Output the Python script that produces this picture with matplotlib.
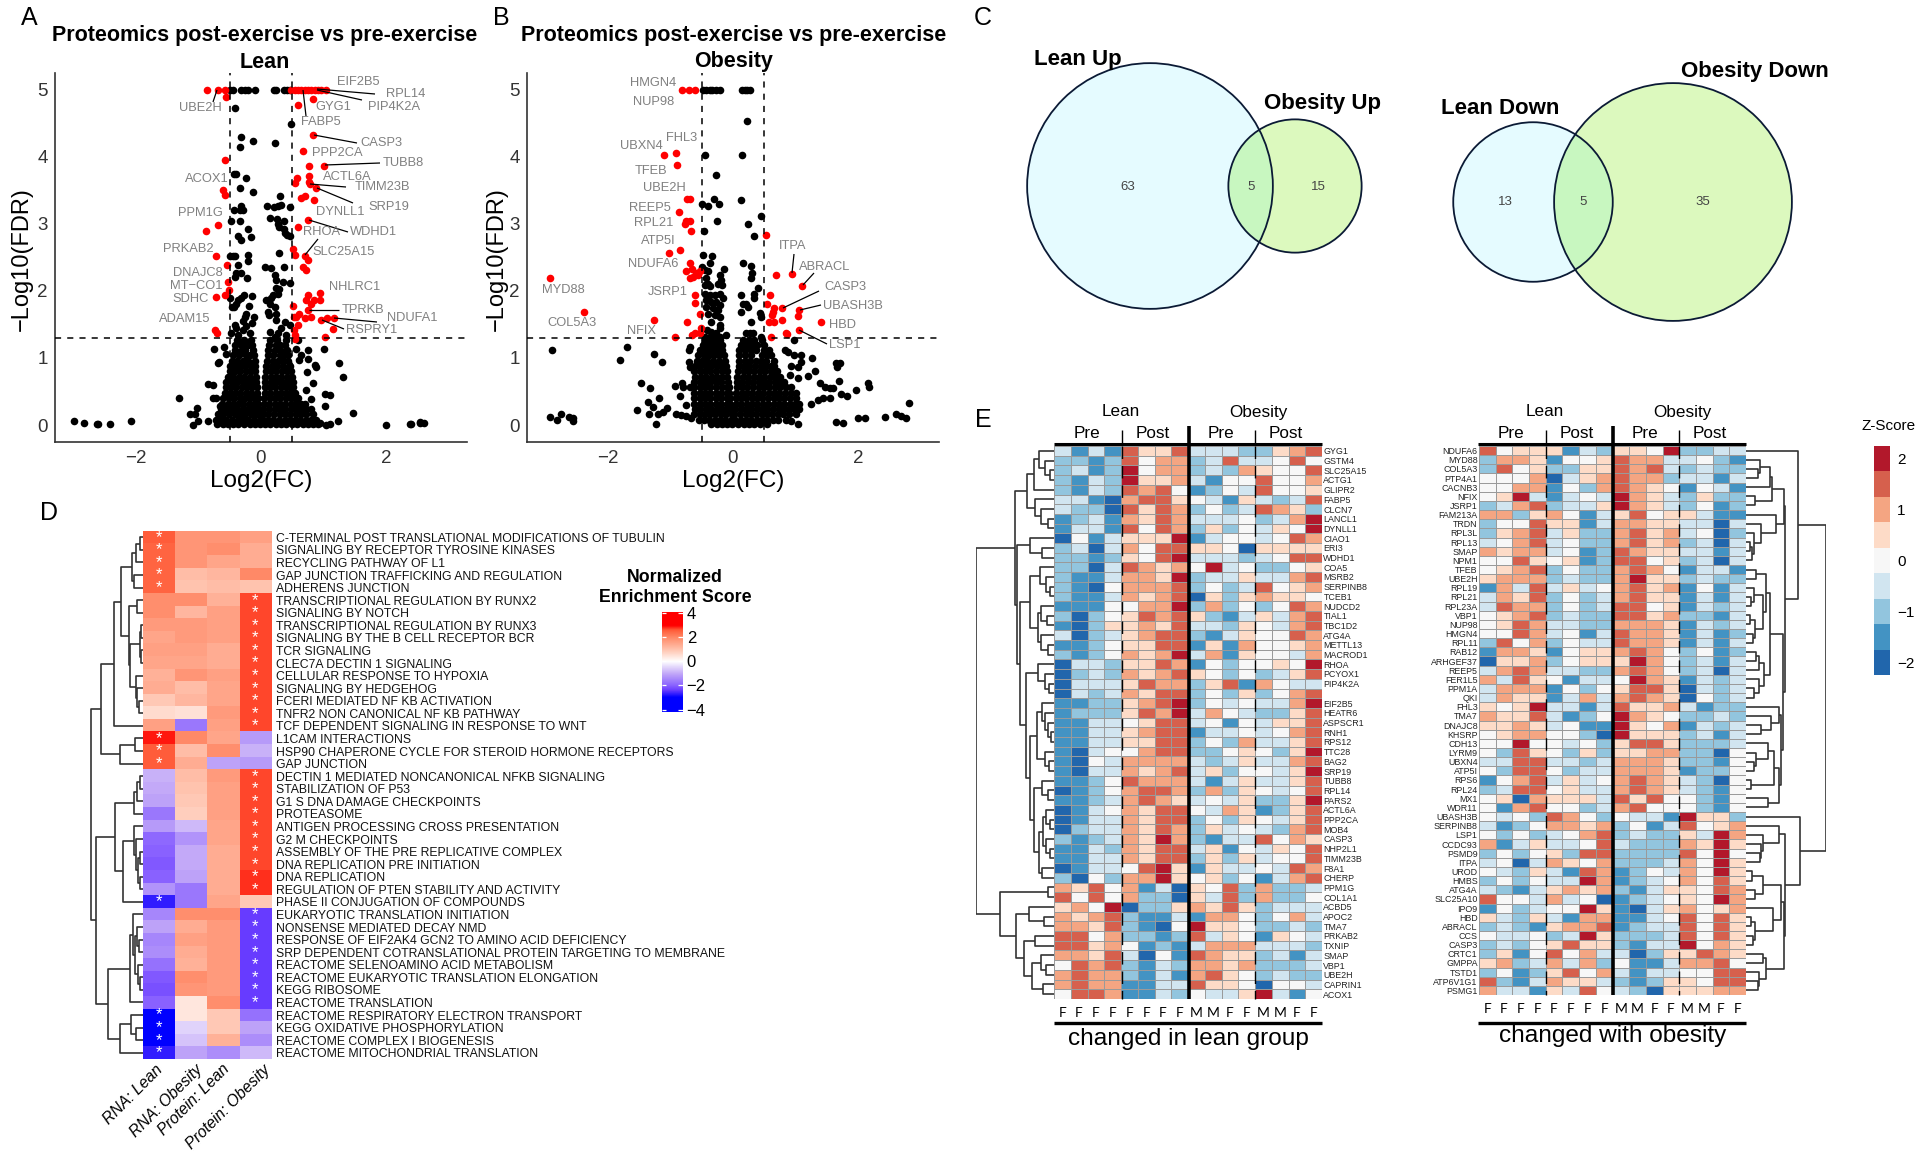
"""Exercise proteomics figure: volcano plots, Venn diagrams, enrichment and Z-score heatmaps."""

import matplotlib

matplotlib.use("Agg")

import matplotlib.pyplot as plt
import numpy as np
from matplotlib.collections import LineCollection
from matplotlib.colors import LinearSegmentedColormap, ListedColormap
from matplotlib.patches import Circle

plt.rcParams["font.family"] = ["Liberation Sans", "DejaVu Sans"]

WIDTH, HEIGHT = 1920, 1162

# ---- panel A, volcano (log2FC, -log10FDR) ----
A_RED = [
    (-.86, 5), (-.68, 5), (-.565, 5), (-.56, 4.89), (-.565, 3.96), (-.61, 3.5), (-.575, 3.43), (-.68, 2.99),
    (-.88, 2.89), (-.71, 2.52), (-.54, 2.39), (-.52, 2.13), (-.51, 2.02), (-.565, 1.94), (-.71, 1.91),
    (-.725, 1.42), (-.7, 1.38), (.49, 5), (.54, 5), (.6, 5), (.65, 5), (.7, 5), (.76, 5), (.81, 5), (.86, 5),
    (.92, 5), (.97, 5), (1.04, 5), (.83, 4.86), (.6, 4.78), (.84, 4.32), (.67, 4.09), (.77, 3.87), (1.01, 3.87),
    (.58, 3.69), (.54, 3.61), (.77, 3.72), (.77, 3.62), (.78, 3.59), (.88, 3.54), (.7, 3.42), (.65, 3.39),
    (.85, 3.35), (.76, 3.06), (.6, 2.96), (.52, 2.63), (.55, 2.53), (.7, 2.52), (.75, 2.46), (.68, 2.36),
    (.73, 2.31), (.76, 1.94), (.95, 1.97), (.73, 1.86), (.85, 1.87), (.95, 1.86), (.81, 1.8), (.52, 1.77),
    (.76, 1.71), (.53, 1.61), (.61, 1.65), (.57, 1.61), (.7, 1.59), (.81, 1.61), (.96, 1.56), (1.06, 1.59),
    (1.17, 1.59), (.59, 1.49), (1.15, 1.43), (.53, 1.42), (.54, 1.34), (1.02, 1.32), (.54, 1.29),
]
A_BLACK = [
    (-.5, 5), (-.44, 5), (-.31, 5), (-.26, 5), (-.2, 5), (-.1, 5), (.21, 5), (.25, 5), (.37, 5), (.42, 5), (.46, 5),
    (-.41, 4.73), (.48, 4.49), (-.31, 4.29), (-.13, 4.24), (-.34, 4.15), (.22, 4.2), (-.43, 3.74), (-.4, 3.74),
    (-.23, 3.68), (-.33, 3.54), (-.12, 3.47), (.3, 3.41), (.1, 3.26), (.21, 3.25), (.27, 3.27), (.33, 3.28),
    (.46, 3.25), (-.31, 3.26), (-.33, 3.21), (-.43, 3.2), (-.29, 3.2), (-.47, 3.05), (-.33, 3.05), (.14, 3.09),
    (.26, 3.07), (.37, 3.05), (.28, 3.0), (.29, 2.96), (.37, 2.93), (.38, 2.87), (.42, 2.83), (.46, 2.82),
    (-.21, 2.92), (-.36, 2.82), (-.31, 2.76), (-.15, 2.81), (-.5, 2.52), (-.44, 2.52), (-.41, 2.52), (-.2, 2.53),
    (-.2, 2.44), (-.36, 2.39), (.29, 2.56), (.07, 2.36), (.17, 2.34), (.37, 2.35), (.22, 2.24), (-.39, 2.26),
    (-.31, 2.26), (-.42, 2.21), (-.22, 2.19), (.24, 2.16), (.35, 2.13), (.46, 2.12), (.25, 2.05), (.29, 2.03),
    (-.49, 1.89), (-.27, 1.94), (-.14, 1.93), (-.31, 1.89), (-.36, 1.86), (-.39, 1.81), (-.19, 1.78), (.2, 1.94),
    (.28, 1.96), (.17, 1.89), (.08, 1.86), (.14, 1.81), (.22, 1.76), (.12, 1.69), (.25, 1.66), (.13, 1.64),
    (-.46, 1.76), (-.43, 1.76), (-.23, 1.66), (-.11, 1.61), (-.26, 1.61), (-.28, 1.55), (-.14, 1.52), (-.23, 1.47),
    (-.42, 1.49), (-.39, 1.44), (-.28, 1.42), (-.48, 1.37), (-.36, 1.34), (-.18, 1.37), (.25, 1.56), (.38, 1.54),
    (.46, 1.49), (.33, 1.44), (.14, 1.39), (.28, 1.37), (.41, 1.34), (.22, 1.32),
    (-2.99, .06), (-2.83, .03), (-2.62, .02), (-2.6, .01), (-2.42, .01), (-2.07, .06), (-1.31, .41), (-1.02, .25),
    (-1.13, .17), (-1.06, .17), (-1.08, 0), (-1.01, .06), (-.84, .61), (-.76, .59), (-.84, .06), (-.76, .41),
    (-.71, .4), (-.65, .28), (-.69, .92), (-.67, .94), (-.75, 1.14), (-.59, 1.17), (-.55, 1.06), (2.01, 0),
    (2.38, .01), (2.4, .02), (2.54, .03), (2.61, .03), (2.55, .04), (1.48, .18), (1.24, .06), (1.1, .02), (1.05, 0),
    (.94, .03), (1.11, .45), (1.03, .46), (1.03, .29), (1.32, .71), (1.25, .92), (1.01, 1.14), (.76, 1.12),
    (.76, .99), (.6, 1.27), (.57, 1.14), (.89, .87), (.86, .89), (.74, .79), (.84, .62), (.73, .52), (.8, .39),
    (.61, .97), (.65, 1.04),
]
BULK_Y = [.01, .08, .16, .24, .32, .40, .48, .56, .64, .72, .80, .88, .96, 1.04, 1.12, 1.20, 1.27]
A_BULK_X = [
    [-.70, -.61, -.53, -.44, -.36, -.27, -.18, -.10, -.02, .07, .15, .24, .33, .41, .50, .58, .67, .75, .84, .92],
    [-.72, -.63, -.55, -.46, -.37, -.29, -.20, -.11, -.02, .03, .12, .20, .29, .38, .46, .55, .63, .72, .80, .88],
    [-.68, -.60, -.51, -.42, -.33, -.25, -.16, -.08, -.03, .03, .12, .21, .30, .38, .47, .56, .65, .73, .84],
    [-.64, -.55, -.47, -.38, -.29, -.21, -.12, -.04, .04, .13, .22, .30, .39, .48, .56, .65, .72, .80],
    [-.62, -.53, -.45, -.36, -.28, -.19, -.11, -.05, .05, .13, .22, .31, .39, .48, .57, .64, .70],
    [-.60, -.51, -.43, -.34, -.26, -.17, -.10, -.05, .05, .14, .23, .31, .40, .48, .55, .60],
    [-.58, -.50, -.41, -.33, -.24, -.15, -.06, .06, .15, .24, .32, .41, .49, .55],
    [-.56, -.47, -.39, -.30, -.22, -.14, -.06, .06, .15, .23, .32, .40, .47, .52],
    [-.55, -.46, -.38, -.29, -.21, -.13, -.07, .07, .16, .24, .33, .41, .47, .52],
    [-.52, -.44, -.35, -.27, -.18, -.08, .07, .16, .25, .33, .42, .50],
    [-.50, -.41, -.33, -.24, -.16, -.09, .08, .17, .25, .34, .42, .48],
    [-.50, -.42, -.33, -.25, -.16, -.09, .09, .18, .26, .35, .46],
    [-.46, -.38, -.29, -.20, -.10, .10, .19, .27, .36, .44],
    [-.44, -.35, -.24, -.18, -.11, .11, .20, .30, .37, .44],
    [-.42, -.30, -.25, -.12, .12, .22, .30, .42],
    [-.42, -.31, -.21, -.14, .13, .24, .31, .38],
    [-.38, -.27, -.16, .14, .26, .40],
]
A_LABELS = [
    ("EIF2B5", 358, 82), ("RPL14", 406, 94), ("PIP4K2A", 394, 107), ("GYG1", 333, 107), ("UBE2H", 200, 108),
    ("FABP5", 321, 122), ("CASP3", 381, 143), ("PPP2CA", 337, 153), ("TUBB8", 403, 163), ("ACTL6A", 347, 177),
    ("ACOX1", 207, 179), ("TIMM23B", 382, 187), ("SRP19", 389, 207), ("DYNLL1", 340, 212), ("PPM1G", 200, 213),
    ("RHOA", 322, 232), ("WDHD1", 374, 232), ("PRKAB2", 188, 249), ("SLC25A15", 344, 252), ("DNAJC8", 198, 273),
    ("NHLRC1", 355, 287), ("MT\u2212CO1", 196, 286), ("SDHC", 191, 299), ("TPRKB", 363, 310), ("NDUFA1", 412, 318),
    ("ADAM15", 185, 319), ("RSPRY1", 372, 330),
]
A_SEGMENTS = [
    [(217, 90), (213, 102)], [(317, 89), (375, 94)], [(317, 90), (362, 100)], [(303, 90), (306, 116)],
    [(314, 135), (357, 143)], [(325, 165), (380, 163)], [(310, 184), (346, 187)], [(317, 188), (353, 203)],
    [(309, 220), (348, 232)], [(305, 255), (318, 239)], [(309, 310), (339, 310)], [(334, 318), (377, 322)],
    [(322, 320), (344, 329)],
]

# ---- panel B, volcano ----
B_RED = [
    (-.81, 5), (-.71, 5), (-.6, 5), (-1.1, 4.03), (-.91, 4.05), (-.89, 3.88), (-.73, 3.37), (-.68, 3.37),
    (-.87, 3.18), (-.77, 3.0), (-.75, 3.05), (-.69, 3.05), (-.67, 2.9), (.52, 2.84), (-.85, 2.61), (-1.03, 2.57),
    (-.69, 2.41), (-.75, 2.3), (-.65, 2.32), (-.59, 2.26), (-.52, 2.3), (-.69, 2.2), (-.64, 2.21), (-.56, 2.24),
    (-2.93, 2.19), (-2.38, 1.68), (-1.27, 1.57), (-.6, 1.94), (-.61, 1.82), (-.53, 1.66), (-.74, 1.53), (-.51, 1.44),
    (-.66, 1.35), (-.6, 1.38), (-.53, 1.37), (-.92, 1.32), (.69, 2.24), (.94, 2.25), (1.11, 2.08), (.59, 1.94),
    (.54, 1.8), (.65, 1.75), (.79, 1.74), (.64, 1.69), (1.06, 1.71), (1.04, 1.62), (.63, 1.64), (.57, 1.53),
    (.65, 1.53), (.78, 1.56), (1.41, 1.53), (.84, 1.37), (.86, 1.36), (1.05, 1.42), (.6, 1.32),
]
B_BLACK = [
    (-.48, 5), (-.43, 5), (-.37, 5), (-.33, 5), (-.27, 5), (-.21, 5), (.14, 5), (.19, 5), (.22, 5), (.27, 5),
    (.23, 4.53), (-.45, 4.03), (.15, 4.03), (-.27, 3.73), (.12, 3.36), (-.5, 3.3), (-.4, 3.26), (-.31, 3.37),
    (-.22, 3.3), (-.26, 3.05), (.45, 3.12), (.24, 3.0), (-.46, 2.9), (.33, 2.82), (-.48, 2.53), (-.34, 2.52),
    (-.36, 2.41), (-.5, 2.36), (-.45, 2.31), (-.4, 2.29), (-.14, 2.32), (-.21, 2.24), (.16, 2.41), (.28, 2.37),
    (.3, 2.26), (.29, 2.19), (.4, 2.05), (-.43, 2.19), (-.4, 2.11), (-.44, 2.09), (-.19, 2.17), (-.24, 2.11),
    (-.18, 2.09), (-.37, 2.07), (-.45, 1.96), (-.37, 1.94), (-.29, 1.94), (-.21, 1.96), (-.16, 1.9), (-.43, 1.86),
    (-.35, 1.84), (-.27, 1.84), (-.21, 1.79), (-.43, 1.76), (-.32, 1.74), (-.24, 1.71), (-.4, 1.66), (-.29, 1.64),
    (-.21, 1.61), (-.35, 1.54), (-.2, 1.49), (-.2, 1.44), (.13, 1.94), (.33, 1.95), (.33, 1.89), (.16, 1.81),
    (.21, 1.8), (.24, 1.76), (.13, 1.69), (.43, 1.67), (.45, 1.61), (.28, 1.53), (.21, 1.38), (.27, 1.38),
    (.32, 1.37), (.45, 1.32), (-.42, 1.42), (-.35, 1.39), (-.27, 1.37), (-.11, 1.34), (-.45, 1.32), (-.37, 1.32),
    (-.29, 1.32), (-.21, 1.31),
    (-2.89, 1.12), (-1.7, 1.17), (-1.8, .97), (-1.27, 1.06), (-1.13, .94), (-1.47, .63), (-1.32, .55), (-1.54, .22),
    (-1.36, .35), (-1.18, .41), (-1.35, .17), (-1.28, .27), (-1.2, .17), (-1.12, .2), (-1.05, .26), (-1.23, .02),
    (-2.92, .12), (-2.81, .07), (-2.75, .16), (-2.63, .12), (-2.56, .1), (-2.56, .06), (-.92, .58), (-.81, .63),
    (-.85, .44), (-.75, .3), (-.91, .16), (-.83, .15), (-.75, .13), (-.67, .11), (-.8, .57), (-.69, .57),
    (-.69, 1.17), (-.7, 1.12), (-.71, .94), (-.69, .87), (2.81, .33), (2.6, .16), (2.68, .13), (2.77, .11),
    (2.43, .12), (2.0, .1), (2.11, .1), (1.64, .05), (1.76, .03), (1.04, .02), (.93, .06), (2.16, .63), (2.17, .57),
    (1.97, .52), (1.82, .44), (1.72, .46), (1.7, .65), (1.71, .93), (1.66, .87), (1.65, .92), (1.6, .55), (1.55, .55),
    (1.47, .57), (1.39, .62), (1.55, .4), (1.44, .4), (1.36, .37), (1.25, .32), (1.27, 1.0), (1.31, .81), (1.2, .73),
    (1.09, 1.04), (1.09, .94), (.97, 1.04), (1.04, .87), (.93, .88), (.83, 1.12), (.88, 1.09), (.97, 1.27), (1.04, .7),
    (.91, .75), (.64, .87), (.69, .77), (.75, .62),
]
B_BULK_X = [
    [-.35, -.26, -.18, -.09, -.01, .08, .17, .25, .34, .43, .55],
    [-.55, -.46, -.38, -.29, -.21, -.12, -.03, .03, .12, .21, .29, .38, .47, .55, .64, .72, .85],
    [-.62, -.53, -.45, -.36, -.28, -.19, -.11, -.02, .02, .11, .20, .28, .37, .46, .54, .63, .72, .80, .89, 1.0],
    [-.60, -.52, -.43, -.35, -.26, -.18, -.09, -.03, .03, .12, .21, .29, .38, .47, .55, .64, .73, .81, .90, .98, 1.05],
    [-.62, -.53, -.45, -.36, -.27, -.19, -.10, -.04, .04, .13, .22, .30, .39, .48, .56, .65, .74, .82, .91, .99, 1.05],
    [-.62, -.53, -.44, -.36, -.27, -.19, -.10, -.05, .04, .13, .21, .30, .39, .47, .56, .65, .73, .82, .91, 1.0],
    [-.62, -.53, -.45, -.36, -.27, -.19, -.10, -.06, .05, .14, .22, .31, .40, .48, .57, .66, .74, .83, .92, 1.0],
    [-.62, -.53, -.44, -.36, -.27, -.18, -.10, -.07, .06, .15, .23, .32, .41, .49, .58, .67, .75, .84, .92],
    [-.62, -.53, -.45, -.36, -.27, -.19, -.08, .06, .15, .24, .32, .41, .49, .58, .67, .74, .82],
    [-.60, -.51, -.43, -.34, -.26, -.17, -.09, .07, .16, .24, .33, .42, .50, .59, .67, .75],
    [-.62, -.53, -.44, -.36, -.27, -.18, -.10, .08, .17, .25, .34, .43, .51, .60, .70],
    [-.60, -.52, -.43, -.35, -.26, -.18, -.11, .09, .18, .26, .35, .44, .52, .60, .66],
    [-.58, -.49, -.41, -.32, -.23, -.13, .10, .19, .27, .36, .45, .53, .65],
    [-.56, -.47, -.39, -.30, -.22, -.15, .10, .19, .28, .47, .54, .60],
    [-.52, -.44, -.35, -.27, -.17, .10, .19, .28, .37, .49, .58],
    [-.48, -.39, -.31, -.23, -.18, .13, .22, .31, .39, .50],
    [-.45, -.37, -.28, -.20, .16, .25, .34, .46],
]
B_LABELS = [
    ("HMGN4", 653, 83), ("NUP98", 654, 102), ("FHL3", 682, 138), ("UBXN4", 641, 146), ("TFEB", 651, 171),
    ("UBE2H", 664, 188), ("REEP5", 650, 208), ("RPL21", 654, 223), ("ATP5I", 658, 241), ("ITPA", 793, 246),
    ("NDUFA6", 653, 264), ("ABRACL", 825, 267), ("MYD88", 563, 290), ("JSRP1", 668, 292), ("CASP3", 845, 287),
    ("UBASH3B", 853, 306), ("COL5A3", 572, 323), ("HBD", 842, 325), ("NFIX", 641, 331), ("LSP1", 845, 345),
]
B_SEGMENTS = [
    [(794, 254), (792, 273)], [(814, 273), (803, 285)], [(819, 291), (783, 308)], [(821, 305), (800, 310)],
    [(827, 344), (799, 330)],
]

# ---- panel C, Venn counts (only left, shared, only right) ----
VENN_UP = [63, 5, 15]
VENN_DOWN = [13, 5, 35]

# ---- panel D, normalized enrichment scores ----
D_PATHWAYS = [
    "C-TERMINAL POST TRANSLATIONAL MODIFICATIONS OF TUBULIN", "SIGNALING BY RECEPTOR TYROSINE KINASES",
    "RECYCLING PATHWAY OF L1", "GAP JUNCTION TRAFFICKING AND REGULATION", "ADHERENS JUNCTION",
    "TRANSCRIPTIONAL REGULATION BY RUNX2", "SIGNALING BY NOTCH", "TRANSCRIPTIONAL REGULATION BY RUNX3",
    "SIGNALING BY THE B CELL RECEPTOR BCR", "TCR SIGNALING", "CLEC7A DECTIN 1 SIGNALING",
    "CELLULAR RESPONSE TO HYPOXIA", "SIGNALING BY HEDGEHOG", "FCERI MEDIATED NF KB ACTIVATION",
    "TNFR2 NON CANONICAL NF KB PATHWAY", "TCF DEPENDENT SIGNALING IN RESPONSE TO WNT", "L1CAM INTERACTIONS",
    "HSP90 CHAPERONE CYCLE FOR STEROID HORMONE RECEPTORS", "GAP JUNCTION",
    "DECTIN 1 MEDIATED NONCANONICAL NFKB SIGNALING", "STABILIZATION OF P53", "G1 S DNA DAMAGE CHECKPOINTS",
    "PROTEASOME", "ANTIGEN PROCESSING CROSS PRESENTATION", "G2 M CHECKPOINTS",
    "ASSEMBLY OF THE PRE REPLICATIVE COMPLEX", "DNA REPLICATION PRE INITIATION", "DNA REPLICATION",
    "REGULATION OF PTEN STABILITY AND ACTIVITY", "PHASE II CONJUGATION OF COMPOUNDS",
    "EUKARYOTIC TRANSLATION INITIATION", "NONSENSE MEDIATED DECAY NMD",
    "RESPONSE OF EIF2AK4 GCN2 TO AMINO ACID DEFICIENCY", "SRP DEPENDENT COTRANSLATIONAL PROTEIN TARGETING TO MEMBRANE",
    "REACTOME SELENOAMINO ACID METABOLISM", "REACTOME EUKARYOTIC TRANSLATION ELONGATION", "KEGG RIBOSOME",
    "REACTOME TRANSLATION", "REACTOME RESPIRATORY ELECTRON TRANSPORT", "KEGG OXIDATIVE PHOSPHORYLATION",
    "REACTOME COMPLEX I BIOGENESIS", "REACTOME MITOCHONDRIAL TRANSLATION",
]
D_COLUMNS = ["RNA: Lean", "RNA: Obesity", "Protein: Lean", "Protein: Obesity"]
D_RNA_LEAN = [2.6, 2.5, 2.5, 2.5, 2.5, 1.9, 1.9, 1.7, 1.5, 1.6, 1.5, 1.3, 1.4, .9, .6, 1.6, 2.9, 2.6, 2.6, -.9, -1.0,
              -1.1, -1.7, -1.2, -1.9, -2.0, -2.1, -2.0, -1.3, -2.7, -1.5, -1.1, -1.5, -1.4, -1.8, -2.1, -2.2, -2.0,
              -3.2, -3.2, -3.2, -2.7]
D_RNA_OBESITY = [1.8, 1.8, 1.8, 1.1, 1.0, 1.9, 1.2, 1.7, 1.7, 1.6, 1.5, 1.8, 1.1, 1.2, .5, -1.7, 2.0, 1.1, 1.4, 1.1,
                 1.0, .9, .8, -.8, -1.3, -1.0, -1.0, -1.1, -1.7, -1.7, 1.9, 1.4, 1.6, 1.4, 1.3, 1.9, 1.8, .4, .4, -.5,
                 -.7, -1.1]
D_PROTEIN_LEAN = [1.8, 1.9, 1.5, 1.2, 1.1, 1.3, 1.6, 1.6, 1.6, 1.4, 1.4, 1.6, 1.5, 1.5, 1.7, 1.6, 1.5, 1.9, -1.1, 1.7,
                  1.6, 1.6, 1.6, 1.5, 1.5, 1.4, 1.4, 1.4, 1.4, 1.5, 1.9, 1.7, 1.7, 1.7, 1.7, 1.7, 1.7, 1.9, .9, .9, 1.3,
                  -1.4]
D_PROTEIN_OBESITY = [1.6, 1.4, 1.4, 2.0, 1.0, 2.7, 2.7, 2.7, 2.7, 2.7, 2.7, 2.7, 2.7, 2.7, 2.7, 2.7, -1.2, -.9, -1.2,
                     2.7, 2.7, 2.7, 2.7, 2.7, 2.7, 2.7, 2.7, 2.8, 2.8, .9, -2.4, -2.4, -2.4, -2.4, -2.4, -2.4, -2.4,
                     -2.4, -1.8, -1.1, -1.4, -.8]
D_STARS_RNA_LEAN = [0, 1, 2, 3, 4, 16, 17, 18, 29, 38, 39, 40, 41]
D_STARS_PROTEIN_OBESITY = [5, 6, 7, 8, 9, 10, 11, 12, 13, 14, 15, 19, 20, 21, 22, 23, 24, 25, 26, 27, 28, 30, 31, 32,
                           33, 34, 35, 36, 37]

# merge trees: (height, upper child, lower child), 0 is a leaf
D_TREE = (52.5,
          (42.5,
           (29, (22, (11, (7, (3.5, 0, 0), 0), (9.5, 0, 0)),
                 (14, (6, 0, 0), (13, (3, (2, 0, 0), (2.5, 0, 0)), (7, 0, (6, 0, (4, 0, 0)))))), 0),
           (23, (8, 0, 0), 0)),
          (47.5,
           (28, (9, (6, (3, 0, 0), 0), 0), (20.5, (9.5, 0, (7, 0, (5, (3, 0, 0), (3, 0, 0)))), 0)),
           (35.5, (13, (10, 0, (8, (6, 0, (4, 0, 0)), (5, 0, (3, 0, 0)))), 0), (23, (12, 0, (7, 0, 0)), 0))))

# ---- panel E, Z-score levels: 0 is darkest blue, 4 is white, 8 is darkest red ----
E_LEFT_GENES = [
    "GYG1", "GSTM4", "SLC25A15", "ACTG1", "GLIPR2", "FABP5", "CLCN7", "LANCL1", "DYNLL1", "CIAO1", "ERI3", "WDHD1",
    "COA5", "MSRB2", "SERPINB8", "TCEB1", "NUDCD2", "TIAL1", "TBC1D2", "ATG4A", "METTL13", "MACROD1", "RHOA", "PCYOX1",
    "PIP4K2A", "", "EIF2B5", "HEATR6", "ASPSCR1", "RNH1", "RPS12", "TTC28", "BAG2", "SRP19", "TUBB8", "RPL14", "PARS2",
    "ACTL6A", "PPP2CA", "MOB4", "CASP3", "NHP2L1", "TIMM23B", "F8A1", "CHERP", "PPM1G", "COL1A1", "ACBD5", "APOC2",
    "TMA7", "PRKAB2", "TXNIP", "SMAP", "VBP1", "UBE2H", "CAPRIN1", "ACOX1",
]
E_LEFT_LEVELS = [
    "3131755733322567", "2212746623733474", "2312846623265447", "2132855631447446", "2132767412437445",
    "3310677543153237", "3220757624237652", "1231657633342368", "1331747625243548", "0413555813443476",
    "2303647755405555", "2212547833323477", "2203765648342245", "2113665823353367", "2104666724237456",
    "2113656705256554", "1114466826242476", "2024576752135367", "1025565733254367", "3023567721354476",
    "1124557715164456", "2124656836154436", "0332557614244548", "0232656754242357", "0333576625716433",
    "0323657724252467", "1122567824343368", "1222576836432257", "1133457734143557", "1133567713343467",
    "1133557724263357", "1034467722454258", "1043666632353367", "1033656735244358", "1124766631353357",
    "0124677626254347", "1123676534352258", "0134657743651257", "0133657724254357", "0233657625343267",
    "2123658621337465", "1132657735143547", "1133657725253447", "0133478515334376", "2042668545241367",
    "6574613054726223", "7474622053726224", "5648022565752333", "6567211316642463", "6657210485542232",
    "7746221273541543", "7756412136663332", "6657304176552313", "4767213266562223", "6766213167542322",
    "6766113375540443", "4776113243358314",
]
E_LEFT_TREE = (78,
               (39,
                (27, (20, (15, 0, (9, 0, (4, 0, 0))), 0), (19, 0, (13, 0, (6, 0, 0)))),
                (37, (24, 0, (12, 0, 0)),
                 (34,
                  (24, (14, 0, (8, 0, (4, 0, 0))), (16, (13, 0, (7, 0, 0)), (13, 0, (6, 0, 0)))),
                  (28, (16, 0, (9, 0, (5, 0, 0))),
                   (24,
                    (17, (12, 0, (9, 0, (6, 0, (3, 0, 0)))), (9, 0, (5, 0, 0))),
                    (20, (12, 0, (6, 0, 0)),
                     (15, (11, (8, 0, (4, 0, 0)), (8, 0, (4, 0, 0))), (12, 0, 0)))))))),
               (54, (6, 0, 0),
                (38, (25, 0, (10, 0, 0)),
                 (30, (19, 0, 0), (22, (13, 0, (8, 0, 0)), (11, 0, 0))))))
E_RIGHT_GENES = [
    "NDUFA6", "MYD88", "COL5A3", "PTP4A1", "CACNB3", "NFIX", "JSRP1", "FAM213A", "TRDN", "RPL3L", "RPL13", "SMAP",
    "NPM1", "TFEB", "UBE2H", "RPL19", "RPL21", "RPL23A", "VBP1", "NUP98", "HMGN4", "RPL11", "RAB12", "ARHGEF37",
    "REEP5", "FER1L5", "PPM1A", "QKI", "FHL3", "TMA7", "DNAJC8", "KHSRP", "CDH13", "LYRM9", "UBXN4", "ATP5I", "RPS6",
    "RPL24", "MX1", "WDR11", "UBASH3B", "SERPINB8", "LSP1", "CCDC93", "PSMD9", "ITPA", "UROD", "HMBS", "ATG4A",
    "SLC25A10", "IPO9", "HBD", "ABRACL", "CCS", "CASP3", "CRTC1", "GMPPA", "TSTD1", "ATP6V1G1", "PSMG1",
]
E_RIGHT_LEVELS = [
    "7455513255482233", "2665144576633421", "2745225576732322", "4446035676623313", "4466142676541431",
    "4583134386532522", "2367233586532412", "6625641357455311", "2447551366553303", "2567352267563402",
    "3467342267562303", "6566341276553313", "4475451277452303", "4567242267641331", "5666232268552322",
    "1637353467561413", "3657242367551313", "3766242377451323", "4567232277562213", "4576332266651323",
    "4476341376651312", "2746243376651313", "1665145567642412", "0556245558642313", "3676332267642303",
    "6375413348651323", "3666142457750323", "3655136367650423", "5458331375563122", "6557312486542232",
    "5565341185461323", "4566442085552313", "4484434257752223", "4275425255662204", "3377332366652214",
    "4277423366651224", "1467353467653204", "2377453367653214", "4506555375744214", "4167442367444214",
    "4342764243318552", "3124665624137456", "4242346723225386", "6135334732226585", "2424527722227484",
    "3403654622236485", "4325317612436485", "2424338612346475", "3213565621355476", "7443634012345486",
    "1423448510356456", "5325316611347475", "2321566712337475", "4334238522237475", "2324575521338465",
    "2514746330255765", "5623636241136674", "2412574631334477", "7213655321255477", "6331537432055566",
]
E_RIGHT_TREE = (80,
                (52, 0,
                 (39,
                  (38, (26, (24, (14, 0, (12, 0, 0)), 0), (9, 0, 0)),
                   (30, 0, (15, 0, (8, 0, (6, (4, 0, 0), 0))))),
                  (37,
                   (24,
                    (20, (10, 0, 0), (17, (8, 0, (5, 0, 0)), (9, (4, 0, 0), (7, 0, 0)))),
                    (18, (13, (10, 0, 0), 0), (13, 0, (8, 0, 0)))),
                   (35, (33, 0, (25, 0, (15, 0, 0))),
                    (33, (28, (22, 0, (10, 0, (8, 0, 0))), (5, 0, 0)), (22, 0, 0)))))),
                (54, 0,
                 (39,
                  (33, 0, (17, 0, (15, 0, (14, 0, 0)))),
                  (38,
                   (35, (17, (6, 0, 0), (9, 0, 0)), (27, 0, (9, (5, 0, 0), (7, 0, 0)))),
                   (20, (17, 0, 0), (13, 0, (12, 0, 0)))))))
E_SEX = ["F", "F", "F", "F", "F", "F", "F", "F", "M", "M", "F", "F", "M", "M", "F", "F"]
ZSCORE_TICKS = ["2", "1", "0", "\u22121", "\u22122"]

HEAT_COLORS = ["#2166ac", "#4393c3", "#92c5de", "#d1e5f0", "#f7f7f7", "#fddbc7", "#f4a582", "#d6604d", "#b2182b"]
NES_STOPS = [(0, "#0000ff"), (.1, "#6a3dff"), (1 / 6, "#8a63ff"), (1 / 3, "#c3a9f8"), (.5, "#ffffff"),
             (2 / 3, "#ffc3ae"), (5 / 6, "#ff8a68"), (.94, "#ff5a37"), (1, "#ff0000")]
DARK_LINE = "#333333"
LABEL_GRAY = "#808080"

fig = plt.figure(figsize=(WIDTH / 100, HEIGHT / 100), dpi=100, facecolor="white")


def axes_px(x0, y0, x1, y1, **kwargs):
    return fig.add_axes(
        [x0 / WIDTH, 1 - y1 / HEIGHT, (x1 - x0) / WIDTH, (y1 - y0) / HEIGHT], **kwargs
    )


# overlay in pixel coordinates for titles, annotations and rules
canvas = axes_px(0, 0, WIDTH, HEIGHT, zorder=10)
canvas.set_xlim(0, WIDTH)
canvas.set_ylim(HEIGHT, 0)
canvas.axis("off")


def put(x, y, text, size, ha="center", va="center", **kwargs):
    canvas.text(x, y, text, fontsize=size, ha=ha, va=va, **kwargs)


def rule(x0, y0, x1, y1, width, **kwargs):
    canvas.plot([x0, x1], [y0, y1], color="black", lw=width, solid_capstyle="butt", **kwargs)


def draw_volcano(box, red, black, bulk_x, title_x, group, label_x, labels, segments):
    axis = axes_px(*box)
    points = list(black)
    for level, xs in zip(BULK_Y, bulk_x):
        points += [(x, level) for x in xs]
    black_xy = np.array(points)
    red_xy = np.array(red)
    axis.scatter(black_xy[:, 0], black_xy[:, 1], s=30, color="black", linewidths=0, zorder=2)
    axis.scatter(red_xy[:, 0], red_xy[:, 1], s=30, color="#ff0000", linewidths=0, zorder=3)
    for position in (-0.5, 0.5):
        axis.axvline(position, color="black", lw=1.1, ls=(0, (4, 4)), zorder=4)
    axis.axhline(1.3, color="black", lw=1.1, ls=(0, (4, 4)), zorder=4)
    axis.set_xlim(-3.3, 3.3)
    axis.set_ylim(-0.253, 5.25)
    axis.set_xticks([-2, 0, 2])
    axis.set_yticks(range(6))
    axis.tick_params(length=0, labelsize=13.5, labelcolor="#333333")
    axis.tick_params(axis="x", pad=6)
    axis.tick_params(axis="y", pad=5)
    for side in ("top", "right"):
        axis.spines[side].set_visible(False)
    for side in ("left", "bottom"):
        axis.spines[side].set_linewidth(1.2)
        axis.spines[side].set_color(DARK_LINE)
    put(title_x, 35, "Proteomics post-exercise vs pre-exercise", 15.5, weight="bold")
    put(title_x, 62, group, 15.5, weight="bold")
    put(label_x, 259, "\u2212Log10(FDR)", 17, rotation=90)
    put((box[0] + box[2]) / 2, 481, "Log2(FC)", 17.5)
    for name, x, y in labels:
        put(x, y, name, 9.3, color=LABEL_GRAY)
    canvas.add_collection(LineCollection(segments, colors="black", linewidths=0.9))


def tree_segments(node, counter, segments):
    if node == 0:
        position = counter[0] + 0.5
        counter[0] += 1
        return position, 0
    height, upper, lower = node
    y_up, h_up = tree_segments(upper, counter, segments)
    y_low, h_low = tree_segments(lower, counter, segments)
    segments.append([(h_up, y_up), (height, y_up), (height, y_low), (h_low, y_low)])
    return (y_up + y_low) / 2, height


def draw_tree(box, tree, n_rows, flip):
    axis = axes_px(*box)
    segments = []
    tree_segments(tree, [0], segments)
    axis.add_collection(LineCollection(segments, colors=DARK_LINE, linewidths=1.2))
    span = box[2] - box[0]
    axis.set_xlim((span, 0) if flip else (0, span))
    axis.set_ylim(n_rows, 0)
    axis.axis("off")


def draw_zscore_heatmap(box, levels, genes, labels_right):
    axis = axes_px(*box)
    grid = np.array([[int(c) for c in row] for row in levels])
    axis.pcolormesh(grid, cmap=ListedColormap(HEAT_COLORS), vmin=-0.5, vmax=8.5,
                    edgecolors="#9a9a9a", linewidth=0.7)
    axis.set_ylim(len(levels), 0)
    axis.set_xticks(np.arange(16) + 0.5, E_SEX, fontsize=10, family="Lato")
    axis.set_yticks(np.arange(len(genes)) + 0.5, genes, fontsize=6.4, color="#222222")
    if labels_right:
        axis.yaxis.tick_right()
    axis.tick_params(length=0, pad=1)
    axis.tick_params(axis="x", pad=6)
    for spine in axis.spines.values():
        spine.set_visible(False)


# panels A and B
draw_volcano((54.5, 73, 467, 442), A_RED, A_BLACK, A_BULK_X, 265, "Lean", 22, A_LABELS, A_SEGMENTS)
draw_volcano((526.7, 73, 939.3, 442), B_RED, B_BLACK, B_BULK_X, 734, "Obesity", 497, B_LABELS, B_SEGMENTS)

# panel C
VENN_LIGHT, VENN_GREEN, VENN_BOTH = "#e5fbff", "#dcf9be", "#c8f7c0"
VENN_EDGE = "#0b1a35"


def draw_venn(counts, scale, left_x, right_x, center_y, left_label, right_label):
    left_r = scale * np.sqrt(counts[0] + counts[1])
    right_r = scale * np.sqrt(counts[2] + counts[1])
    left = Circle((left_x, center_y), left_r, facecolor=VENN_LIGHT, edgecolor="none")
    right = Circle((right_x, center_y), right_r, facecolor=VENN_GREEN, edgecolor="none")
    both = Circle((right_x, center_y), right_r, facecolor=VENN_BOTH, edgecolor="none")
    canvas.add_patch(left)
    canvas.add_patch(right)
    canvas.add_patch(both)
    both.set_clip_path(left)
    for x, r in ((left_x, left_r), (right_x, right_r)):
        canvas.add_patch(Circle((x, center_y), r, facecolor="none", edgecolor=VENN_EDGE, lw=1.3))
    put(*left_label[1:], left_label[0], 16, weight="bold")
    put(*right_label[1:], right_label[0], 16, weight="bold")


draw_venn(VENN_UP, 14.9, 1150, 1295, 186, ("Lean Up", 1078, 60), ("Obesity Up", 1322, 103))
draw_venn(VENN_DOWN, 18.8, 1533, 1673, 202, ("Lean Down", 1500, 109), ("Obesity Down", 1755, 72))
for x, value in zip((1128, 1251, 1318), VENN_UP):
    put(x, 187, str(value), 9.5, color="#444444")
for x, value in zip((1505, 1583, 1703), VENN_DOWN):
    put(x, 202, str(value), 9.5, color="#444444")

# panel D
nes_cmap = LinearSegmentedColormap.from_list("nes", NES_STOPS)
nes_axis = axes_px(143, 531, 271.5, 1059)
nes_values = np.column_stack([D_RNA_LEAN, D_RNA_OBESITY, D_PROTEIN_LEAN, D_PROTEIN_OBESITY])
nes_axis.imshow(nes_values, cmap=nes_cmap, vmin=-3, vmax=3, aspect="auto", interpolation="nearest")
nes_axis.set_yticks(range(len(D_PATHWAYS)), D_PATHWAYS, fontsize=8.8, color="#111111")
nes_axis.yaxis.tick_right()
nes_axis.set_xticks(np.arange(4) + np.array([-.12, 1.12, 1.94, 3.22]) - np.arange(4), D_COLUMNS, fontsize=11.3,
                    style="italic", rotation=45, ha="right", rotation_mode="anchor")
nes_axis.tick_params(length=0, pad=3)
nes_axis.tick_params(axis="x", pad=2)
for spine in nes_axis.spines.values():
    spine.set_visible(False)
for column, rows in ((0, D_STARS_RNA_LEAN), (3, D_STARS_PROTEIN_OBESITY)):
    for row in rows:
        nes_axis.text(column, row, "*", color="white", fontsize=12, ha="center", va="center")
draw_tree((90, 531, 143, 1059), D_TREE, len(D_PATHWAYS), True)

put(675, 577, "Normalized", 12.8, weight="bold")
put(675, 598, "Enrichment Score", 12.8, weight="bold")
bar_axis = axes_px(661.5, 612, 682.5, 712)
bar_axis.imshow(np.linspace(4.1, -4.2, 200)[:, None], cmap=nes_cmap, vmin=-3, vmax=3, aspect="auto",
                extent=(0, 1, -4.2, 4.1))
bar_axis.set_xticks([])
bar_axis.set_yticks([-4, -2, 0, 2, 4], ["\u22124", "\u22122", "0", "2", "4"], fontsize=12)
bar_axis.yaxis.tick_right()
bar_axis.tick_params(length=0, pad=3)
bar_axis.hlines([-4, -2, 0, 2, 4], 0, 0.2, color="white", lw=0.9)
bar_axis.hlines([-4, -2, 0, 2, 4], 0.8, 1, color="white", lw=0.9)
for spine in bar_axis.spines.values():
    spine.set_visible(False)

# panel E
draw_zscore_heatmap((1054, 446, 1322, 999), E_LEFT_LEVELS, E_LEFT_GENES, True)
draw_zscore_heatmap((1479, 446, 1746, 995), E_RIGHT_LEVELS, E_RIGHT_GENES, False)
draw_tree((976, 446, 1054, 999), E_LEFT_TREE, len(E_LEFT_GENES), True)
draw_tree((1746, 446, 1826, 995), E_RIGHT_TREE, len(E_RIGHT_GENES), False)

for left, right, middle, tick_a, tick_b, bottom, heads, lean_x, obesity_x in (
    (1054, 1322, 1189, 1122, 1255, 999, (1087, 1153, 1221, 1286), 1121, 1258),
    (1478, 1746, 1613, 1546, 1679, 995, (1511, 1577, 1645, 1710), 1545, 1682),
):
    rule(left, 444, right, 444, 2.2)
    rule(middle, 426, middle, bottom, 2.6)
    for x in (tick_a, tick_b):
        rule(x, 430, x, 444, 1.0)
        canvas.plot([x, x], [446, bottom], color="black", lw=1.0, ls=(0, (9, 5)))
    rule(left, 1023, right, 1023, 2.4)
    put(lean_x, 412, "Lean", 12.3)
    put(obesity_x, 412, "Obesity", 12.3)
    for x, word in zip(heads, ("Pre", "Post", "Pre", "Post")):
        put(x, 433, word, 12.3)
put(1188, 1039, "changed in lean group", 17.6)
put(1613, 1036, "changed with obesity", 17.6)

put(1889, 426, "Z-Score", 11)
legend_axis = axes_px(1874, 446, 1890, 675)
legend_axis.imshow(np.arange(8, -1, -1)[:, None], cmap=ListedColormap(HEAT_COLORS), aspect="auto")
legend_axis.set_xticks([])
legend_axis.set_yticks([0, 2, 4, 6, 8], ZSCORE_TICKS, fontsize=11)
legend_axis.yaxis.tick_right()
legend_axis.tick_params(length=0, pad=5)
for spine in legend_axis.spines.values():
    spine.set_visible(False)

# panel letters
for letter, x, y in (("A", 29, 18), ("B", 501, 18), ("C", 983, 18), ("D", 49, 513), ("E", 983, 420)):
    put(x, y, letter, 18)

fig.savefig("out.png", dpi=100)
plt.close(fig)
